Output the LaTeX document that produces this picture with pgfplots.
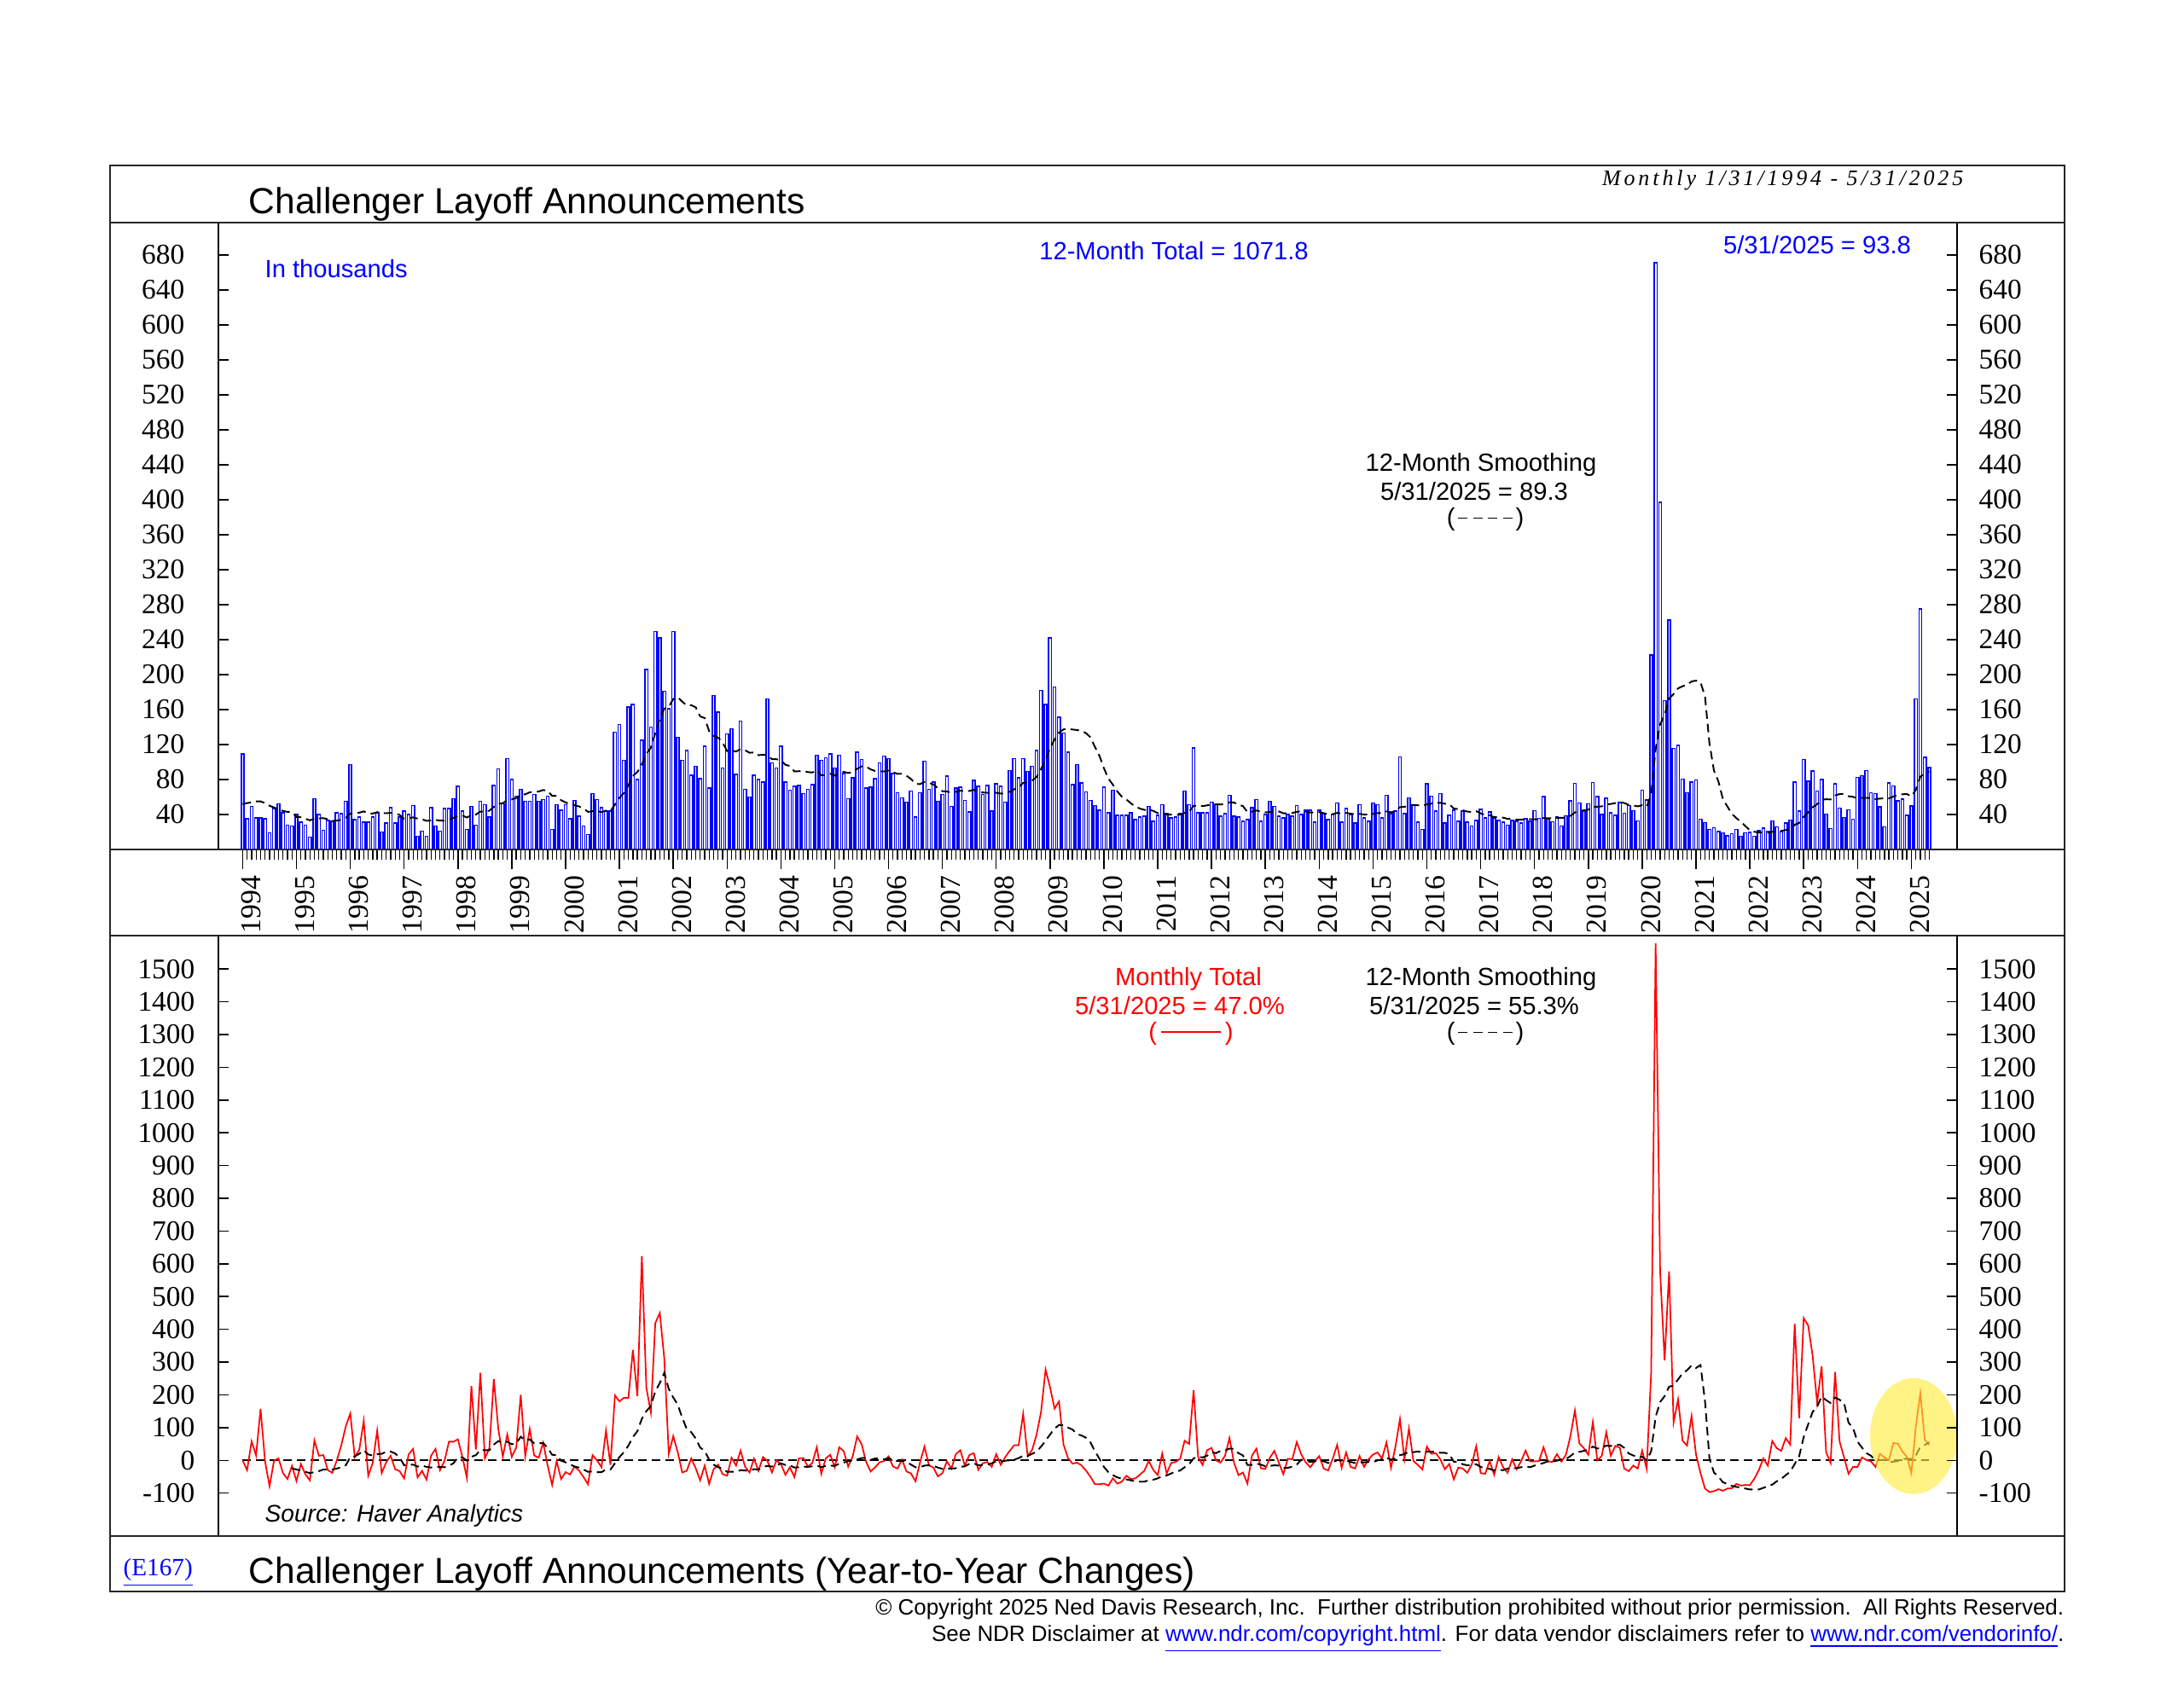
\documentclass[border=0pt]{standalone}
\usepackage{pgfplots}
\pgfplotsset{compat=1.18}
\usepackage{pgfplotstable}
\usepackage{fontspec}
\setmainfont{Liberation Sans}
\newfontfamily\serif{Liberation Serif}
\newfontfamily\serifsp[LetterSpace=15]{Liberation Serif}
\definecolor{ndrblue}{RGB}{0,0,255}
\definecolor{hl}{RGB}{255,236,60}
\newcommand\titlefont{\fontsize{12.1}{14}\selectfont}
\newcommand\annot{\fontsize{8.3}{10}\selectfont}
\newcommand\ticklab{\serif\fontsize{9.5}{11}\selectfont}
\newcommand\yearlab{\serif\fontsize{9.6}{11}\selectfont}
\newcommand\headfont{\serifsp\itshape\fontsize{7.4}{8.5}\selectfont}
\newcommand\footfont{\fontsize{7.38}{8.5}\selectfont}
\newcommand\srcfont{\itshape\fontsize{8}{9.5}\selectfont}
\newcommand\eflab{\serif\fontsize{8.3}{10}\selectfont}
\newcommand\dsh{\rule[0.28em]{3.2pt}{0.5pt}}
\newcommand\dashleg{(\kern1pt\dsh\kern1.8pt\dsh\kern1.8pt\dsh\kern1.8pt\dsh\kern1pt)}

% t = months since Jan 1994; b = layoffs (thousands); ma = 12-month smoothing;
% y = year-to-year change of monthly total (%); ym = year-to-year change of smoothing (%)
\pgfplotstableread{
t b ma y ym
0 109 52 0 nan
1 35 53 -30 nan
2 49 54 58 nan
3 36 55 15 nan
4 36 55 157 nan
5 35 53 -3 nan
6 19 50 -79 nan
7 47 48 -1 nan
8 52 46 6 nan
9 42 44 -39 nan
10 28 43 -57 nan
11 27 42.9 -17 -24
12 40 37.2 -63 -28
13 31 36.8 -11 -31
14 28 35.1 -43 -35
15 14 33.3 -61 -39
16 58 35.1 61 -36
17 40 35.5 14 -33
18 22 35.8 16 -28
19 33 34.6 -30 -28
20 32 32.9 -38 -28
21 42 32.9 0 -25
22 41 34.0 46 -21
23 55 36.3 104 -15
24 97 41.1 143 10
25 34 41.3 10 12
26 37 42.1 32 20
27 31 43.5 121 31
28 31 41.3 -47 18
29 37 41.0 -8 15
30 42 42.7 91 19
31 20 41.6 -39 20
32 30 41.4 -6 26
33 48 41.9 14 27
34 30 41.0 -27 21
35 37 39.5 -33 9
36 44 35.1 -55 -15
37 40 35.6 18 -14
38 50 36.7 35 -13
39 15 35.3 -52 -19
40 21 34.5 -32 -16
41 15 32.7 -59 -20
42 48 33.2 14 -22
43 27 33.8 35 -19
44 21 33.0 -30 -20
45 47 32.9 -2 -21
46 47 34.3 57 -16
47 58 36.1 57 -9
48 72 38.4 64 9
49 44 38.8 10 9
50 23 36.5 -54 -1
51 49 39.3 227 11
52 28 39.9 33 16
53 55 43.3 267 32
54 51 43.5 6 31
55 37 44.3 37 31
56 73 48.7 248 48
57 92 52.4 96 59
58 52 52.8 11 54
59 104 56.7 79 57
60 80 57.3 11 49
61 61 58.8 39 52
62 69 62.6 200 72
63 55 63.1 12 61
64 55 65.3 96 64
65 63 66.0 15 52
66 55 66.3 8 52
67 57 68.0 54 53
68 61 67.0 -16 38
69 23 61.3 -75 17
70 51 61.2 -2 16
71 45 56.3 -57 -1
72 51 53.8 -36 -6
73 35 51.7 -43 -12
74 56 50.6 -19 -19
75 38 49.2 -31 -22
76 27 46.8 -51 -28
77 17.3 43.0 -73 -35
78 64 43.7 16 -34
79 57 43.7 0 -36
80 48 42.7 -21 -36
81 44 44.4 91 -28
82 44 43.9 -14 -28
83 134 51.3 198 -9
84 143 59.0 180 10
85 102 64.6 191 25
86 163 73.4 191 45
87 166 84.1 337 71
88 80 88.5 196 89
89 125 97.5 623 127
90 206 109.3 222 150
91 140 116.3 146 166
92 249 133.0 419 211
93 242 149.5 450 236
94 181 160.9 311 267
95 161 163.2 20 218
96 249 172.0 74 192
97 128 174.2 25 170
98 102 169.1 -37 130
99 113 164.7 -32 96
100 85 165.1 6 86
101 95 162.6 -24 67
102 81 152.2 -61 39
103 118 150.3 -16 29
104 70 135.4 -72 2
105 176 129.9 -27 -13
106 157 127.9 -13 -21
107 93 122.3 -42 -25
108 132 112.5 -47 -35
109 138 113.3 8 -35
110 86 112.0 -16 -34
111 147 114.8 30 -30
112 69 113.5 -19 -31
113 60 110.6 -37 -32
114 85 110.9 5 -27
115 80 107.8 -32 -28
116 77 108.3 10 -20
117 172 108.0 -2 -17
118 99 103.2 -37 -19
119 93 103.2 0 -16
120 118 102.0 -11 -9
121 77 96.9 -44 -14
122 68 95.4 -21 -15
123 72 89.2 -51 -22
124 73 89.5 6 -21
125 64 89.8 7 -19
126 69 88.5 -19 -20
127 74 88.0 -8 -18
128 108 90.6 40 -16
129 102 84.8 -41 -21
130 105 85.3 6 -17
131 109 86.6 17 -16
132 93 84.5 -21 -17
133 108 87.1 40 -10
134 87 88.7 28 -7
135 58 87.5 -19 -2
136 82 88.3 12 -1
137 111 92.2 73 3
138 103 95.0 49 7
139 70 94.7 -5 8
140 71 91.6 -34 1
141 81 89.8 -21 6
142 99 89.3 -6 5
143 107 89.2 -2 3
144 104 90.1 12 7
145 87 88.3 -19 1
146 65 86.5 -25 -2
147 59 86.6 2 -1
148 54 84.3 -34 -5
149 67 80.6 -40 -13
150 37 75.1 -64 -21
151 65 74.7 -7 -21
152 101 77.2 42 -16
153 69 76.2 -15 -15
154 77 74.3 -22 -17
155 55 70.0 -49 -22
156 63 66.6 -39 -26
157 84 66.3 -3 -25
158 49 65.0 -25 -25
159 70 65.9 19 -24
160 71 67.3 31 -20
161 56 66.4 -16 -18
162 43 66.9 16 -11
163 79 68.1 22 -9
164 72 65.7 -29 -15
165 63 65.2 -9 -14
166 73 64.8 -5 -13
167 44 63.9 -20 -9
168 75 64.9 19 -3
169 72 63.9 -14 -4
170 54 64.3 10 -1
171 90 66.0 29 0
172 104 68.8 46 2
173 82 70.9 46 7
174 104 76.0 142 14
175 89 76.8 13 13
176 95 78.8 32 20
177 113 82.9 79 27
178 182 92.0 149 42
179 166 102.2 277 60
180 242 116.1 223 79
181 186 125.6 158 97
182 151 133.7 180 108
183 133 137.3 48 108
184 111 137.8 7 100
185 74 137.2 -10 94
186 97 136.6 -7 80
187 76 135.5 -15 76
188 66 133.1 -31 69
189 56 128.3 -50 55
190 50 117.3 -73 28
191 45 107.3 -73 5
192 71 93.0 -71 -20
193 42 81.0 -77 -36
194 68 74.1 -55 -45
195 39 66.3 -71 -52
196 39 60.3 -65 -56
197 39 57.3 -47 -58
198 42 52.8 -57 -61
199 34 49.3 -55 -64
200 37 46.8 -44 -65
201 38 45.3 -32 -65
202 49 45.3 -2 -61
203 32 44.2 -29 -59
204 39 41.5 -45 -55
205 51 42.3 21 -48
206 41 40.0 -40 -46
207 36 39.8 -8 -40
208 37 39.6 -5 -34
209 41 39.8 5 -31
210 67 41.8 60 -21
211 51 43.3 50 -12
212 116 49.8 214 6
213 42 50.2 11 11
214 42 49.6 -14 9
215 42 50.4 31 14
216 54 51.7 38 25
217 51 51.7 0 22
218 38 51.4 -7 29
219 41 51.8 14 30
220 62 53.9 68 36
221 38 53.7 -7 35
222 37 51.2 -45 22
223 32 49.6 -37 15
224 34 42.8 -71 -14
225 48 43.3 14 -14
226 57 44.5 36 -10
227 32 43.7 -24 -13
228 40 42.5 -26 -18
229 55 42.8 8 -17
230 49 43.8 29 -15
231 38 43.5 -7 -16
232 36 41.3 -42 -23
233 40 41.5 5 -23
234 38 41.6 3 -19
235 50 43.1 56 -13
236 40 43.6 18 2
237 45 43.3 -6 0
238 45 42.3 -21 -5
239 31 42.3 -3 -3
240 45 42.7 13 0
241 41 41.5 -25 -3
242 34 40.3 -31 -8
243 40 40.4 5 -7
244 53 41.8 47 1
245 31 41.1 -23 -1
246 47 41.8 24 0
247 40 41.0 -20 -5
248 30 40.2 -25 -8
249 51 40.7 13 -6
250 36 39.9 -20 -6
251 32 40.0 3 -5
252 53 40.7 18 -5
253 51 41.5 24 0
254 36 41.7 6 3
255 62 43.5 55 8
256 41 42.5 -23 2
257 44 43.6 42 6
258 106 48.5 126 16
259 41 48.6 3 19
260 59 51.0 97 27
261 50 50.9 -2 25
262 31 50.5 -14 27
263 23 49.8 -28 25
264 75 51.6 42 27
265 61 52.4 20 26
266 44 53.1 22 27
267 64 53.3 3 23
268 30 52.3 -27 23
269 39 51.9 -11 19
270 45 46.8 -58 -4
271 32 46.1 -22 -5
272 44 44.8 -25 -12
273 31 43.3 -38 -15
274 27 42.9 -13 -15
275 33 43.8 43 -12
276 46 41.3 -39 -20
277 36 39.3 -41 -25
278 43 39.2 -2 -26
279 36 36.8 -44 -31
280 33 37.1 10 -29
281 31 36.4 -21 -30
282 28 35.0 -38 -25
283 33 35.1 3 -24
284 32 34.1 -27 -24
285 30 34.0 -3 -21
286 35 34.7 30 -19
287 32 34.6 -3 -21
288 44.6 34.5 -3 -16
289 35.4 34.4 -2 -12
290 60.4 35.9 40 -8
291 35 35.8 -3 -3
292 31.5 35.7 -5 -4
293 37 36.2 19 -1
294 27 36.1 -4 3
295 38.5 36.5 17 4
296 55.8 38.5 74 13
297 75.6 42.3 152 24
298 53.1 43.8 52 26
299 43.9 44.8 37 29
300 52.2 45.5 17 32
301 76.8 48.9 117 42
302 60.6 48.9 0 36
303 40.0 49.3 14 38
304 58.6 51.6 86 45
305 42.0 52.0 14 44
306 38.8 53.0 44 47
307 53.5 54.2 39 48
308 41.6 53.1 -25 38
309 50.3 51.0 -33 21
310 44.6 50.2 -16 15
311 32.8 49.3 -25 10
312 67.7 50.6 30 11
313 56.7 48.9 -26 0
314 222.3 62.4 267 28
315 671.1 115.0 1578 133
316 397.0 143.2 577 178
317 170.2 153.9 305 196
318 262.6 172.5 577 225
319 115.8 177.7 116 228
320 118.8 184.2 186 247
321 80.7 186.7 60 266
322 64.8 188.4 45 275
323 77.0 192.1 135 290
324 79.6 193.1 18 282
325 34.5 191.2 -39 291
326 30.6 175.2 -86 181
327 22.9 121.2 -97 5
328 24.6 90.2 -94 -37
329 20.5 77.7 -88 -50
330 18.9 57.4 -93 -67
331 15.7 49.1 -86 -72
332 17.9 40.6 -85 -78
333 22.8 35.8 -72 -81
334 14.9 31.7 -77 -83
335 19.1 26.8 -75 -86
336 19.3 21.8 -76 -89
337 15.2 20.2 -56 -89
338 21.4 19.4 -30 -89
339 24.3 19.6 6 -84
340 20.7 19.2 -16 -79
341 32.5 20.2 59 -74
342 25.8 20.8 37 -64
343 20.3 21.2 29 -57
344 30.0 22.2 68 -45
345 33.8 23.1 48 -35
346 77.0 28.3 417 -11
347 43.7 30.3 129 13
348 103.0 37.3 434 71
349 77.8 42.5 412 110
350 89.7 48.2 319 148
351 67.0 51.8 176 164
352 80.1 56.7 287 195
353 40.7 57.4 25 184
354 23.7 57.2 -8 175
355 75.2 61.8 270 192
356 47.5 63.3 58 185
357 36.8 63.5 9 175
358 45.5 60.9 -41 115
359 34.8 60.2 -20 99
360 82.3 58.4 -20 57
361 84.6 59.0 9 39
362 90.3 59.0 1 22
363 64.8 58.9 -3 14
364 63.8 57.5 -20 1
365 48.8 58.2 20 1
366 25.9 58.4 9 2
367 75.9 58.4 1 -6
368 72.8 60.5 53 -4
369 55.6 62.1 51 -2
370 57.7 63.1 27 4
371 38.8 63.4 11 5
372 49.8 60.7 -39 4
373 172.0 68.0 103 15
374 275.2 83.4 205 41
375 105.4 86.8 63 47
376 93.8 89.3 47 55
}\data

\pgfplotsset{
  panel/.style={scale only axis, width=203.8mm, xmin=-5.4, xmax=382.2,
    axis line style={line width=0.5pt, black}, tick style={black, line width=0.42pt}},
  toppanel/.style={panel, at={(25.6mm,98.2mm)}, anchor=south west, height=73.5mm, ymin=0, ymax=717,
    ytick={40,80,...,680},
    yticklabels={40,80,120,160,200,240,280,320,360,400,440,480,520,560,600,640,680}},
  botpanel/.style={panel, at={(25.6mm,17.7mm)}, anchor=south west, height=70.4mm, ymin=-231, ymax=1602,
    ytick={-100,0,...,1500},
    yticklabels={-100,0,100,200,300,400,500,600,700,800,900,1000,1100,1200,1300,1400,1500}},
}

\begin{document}
\begin{tikzpicture}
\fill[white] (0,0) rectangle (256mm,197.8mm);

% ---------- top panel ----------
\begin{axis}[toppanel, xtick=\empty, ytick pos=both, tick align=inside, major tick length=1.2mm,
  yticklabel style={font=\ticklab, anchor=east, inner sep=0pt, xshift=-3.9mm}]
\addplot[ybar, bar width=0.62, draw=ndrblue, fill=white, line width=0.42pt] table[x=t,y=b] {\data};
\addplot[black, line width=0.55pt, dash pattern=on 1mm off 0.6mm] table[x=t,y=ma] {\data};
\end{axis}
\begin{axis}[toppanel, axis x line*=bottom, axis y line=none,
  xtick={0,12,...,372},
  xticklabels={1994,1995,1996,1997,1998,1999,2000,2001,2002,2003,2004,2005,2006,2007,2008,2009,2010,2011,2012,2013,2014,2015,2016,2017,2018,2019,2020,2021,2022,2023,2024,2025},
  minor xtick={0,1,...,376}, tick align=outside, major tick length=2.3mm, minor tick length=1.2mm,
  minor tick style={line width=0.38pt},
  xticklabel style={font=\yearlab, inner sep=0pt, yshift=-0.7mm, xshift=-0.2mm, rotate=90, anchor=north east}]
\addplot[draw=none] coordinates {(0,0)};
\end{axis}
\begin{axis}[toppanel, axis y line*=right, axis x line=none, tick align=inside, major tick length=1.2mm,
  yticklabel style={font=\ticklab, anchor=west, inner sep=0pt, xshift=2.5mm}]
\addplot[draw=none] coordinates {(0,0)};
\end{axis}

% ---------- bottom panel ----------
\begin{axis}[botpanel, xtick=\empty, ytick pos=both, tick align=inside, major tick length=1.2mm,
  yticklabel style={font=\ticklab, anchor=east, inner sep=0pt, xshift=-2.7mm}]
\addplot[black, line width=0.55pt, dash pattern=on 1mm off 0.6mm] coordinates {(0,0) (376,0)};
\addplot[red, line width=0.5pt] table[x=t,y=y] {\data};
\addplot[black, line width=0.55pt, dash pattern=on 1mm off 0.6mm] table[x=t,y=ym] {\data};
\fill[hl, fill opacity=0.62] (axis cs:372.5,74) ellipse [x radius=5.1mm, y radius=6.8mm];
\end{axis}
\begin{axis}[botpanel, axis y line*=right, axis x line=none, tick align=inside, major tick length=1.2mm,
  yticklabel style={font=\ticklab, anchor=west, inner sep=0pt, xshift=2.5mm}]
\addplot[draw=none] coordinates {(0,0)};
\end{axis}

\begin{scope}[x=0.1mm,y=0.1mm]
% ---------- frame ----------
\begin{scope}[line width=0.6pt, black!85]
\draw (129,112) rectangle (2420,1784);
\draw (129,1717) -- (2420,1717);
\draw (129,982) -- (2420,982);
\draw (129,881) -- (2420,881);
\draw (129,177) -- (2420,177);
\end{scope}

% ---------- texts ----------
\begin{scope}[every node/.style={inner sep=0pt}]
\node[anchor=base west, font=\titlefont] at (291,1727) {Challenger Layoff Announcements};
\node[anchor=base east, font=\headfont] at (2302,1760) {Monthly 1/31/1994 - 5/31/2025};
\node[anchor=west, font=\annot, text=ndrblue] at (310,1663) {In thousands};
\node[font=\annot, text=ndrblue] at (1376,1684) {12-Month Total = 1071.8};
\node[font=\annot, text=ndrblue] at (2130,1691) {5/31/2025 = 93.8};
\node[font=\annot] at (1736,1433) {12-Month Smoothing};
\node[font=\annot] at (1728,1402) {5/31/2025 = 89.3};
\node[font=\annot] at (1741,1369) {\dashleg};
\node[font=\annot, text=red] at (1393,830) {Monthly Total};
\node[font=\annot, text=red] at (1383,799) {5/31/2025 = 47.0\%};
\node[font=\annot, text=red] at (1396,766) {(\,\rule[0.3em]{2.4em}{0.45pt}\,)};
\node[font=\annot] at (1736,830) {12-Month Smoothing};
\node[font=\annot] at (1728,799) {5/31/2025 = 55.3\%};
\node[font=\annot] at (1741,766) {\dashleg};
\node[anchor=west, font=\srcfont] at (310,201) {Source: Haver Analytics};
\node[anchor=west, font=\eflab, text=ndrblue] at (144,134) {\underline{(E167)}};
\node[anchor=base west, font=\titlefont] at (291,121) {Challenger Layoff Announcements (Year-to-Year Changes)};
\node[anchor=base east, font=\footfont] at (2420,84) {© Copyright 2025 Ned Davis Research, Inc.\ \ Further distribution prohibited without prior permission.\ \ All Rights Reserved.};
\node[anchor=base east, font=\footfont] at (2420,53) {See NDR Disclaimer at \textcolor{ndrblue}{\underline{www.ndr.com/copyright.html}}. For data vendor disclaimers refer to \textcolor{ndrblue}{\underline{www.ndr.com/vendorinfo/}}.};
\end{scope}
\end{scope}
\end{tikzpicture}
\end{document}
